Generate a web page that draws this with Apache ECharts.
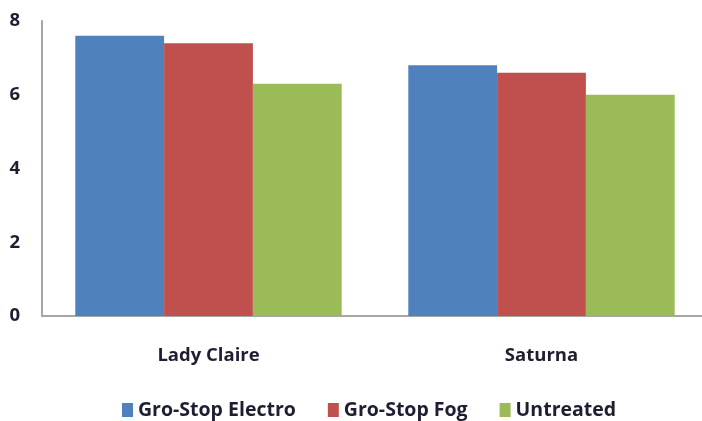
<!DOCTYPE html>
<html>
<head>
<meta charset="utf-8">
<script src="https://cdn.jsdelivr.net/npm/echarts@6/dist/echarts.min.js"></script>
<style>html,body{margin:0;padding:0;background:#fff}#c{width:702px;height:421px}</style>
</head>
<body>
<div id="c"></div>
<script>
var categories = ['Lady Claire', 'Saturna'];
var seriesNames = ['Gro-Stop Electro', 'Gro-Stop Fog', 'Untreated'];
var electro = [7.6, 6.8];
var fog = [7.4, 6.6];
var untreated = [6.3, 6.0];
var yTicks = [0, 2, 4, 6, 8];

var colors = ['#4F81BD', '#C0504D', '#9BBB59'];
var values = [electro, fog, untreated];
var textColor = '#1e1e33';
var fontFam = '"Open Sans", sans-serif';

var chart = echarts.init(document.getElementById('c'));
chart.setOption({
  animation: false,
  color: colors,
  grid: { left: 42, top: 21, width: 666, bottom: 105, outerBoundsMode: 'none', containLabel: false },
  legend: {
    bottom: -4,
    left: 117,
    itemWidth: 11,
    itemHeight: 14,
    itemGap: 32,
    icon: 'rect',
    textStyle: { fontFamily: fontFam, fontWeight: 'bold', fontSize: 19.5, color: textColor },
    data: seriesNames
  },
  xAxis: {
    type: 'category',
    data: categories,
    axisLine: { lineStyle: { color: '#a6a6a6', width: 2 } },
    axisTick: { show: false },
    axisLabel: { fontFamily: fontFam, fontWeight: 'bold', fontSize: 18.5, color: textColor, margin: 30 }
  },
  yAxis: {
    type: 'value',
    min: yTicks[0],
    max: yTicks[yTicks.length - 1],
    interval: 2,
    splitLine: { show: false },
    axisLine: { show: true, lineStyle: { color: '#a6a6a6', width: 2 } },
    axisTick: { show: false },
    axisLabel: { fontFamily: fontFam, fontWeight: 'bold', fontSize: 18.5, color: textColor, margin: 22 }
  },
  series: seriesNames.map(function (n, i) {
    return {
      name: n,
      type: 'bar',
      data: values[i],
      barGap: '0%',
      barCategoryGap: '20%'
    };
  })
});
</script>
</body>
</html>
